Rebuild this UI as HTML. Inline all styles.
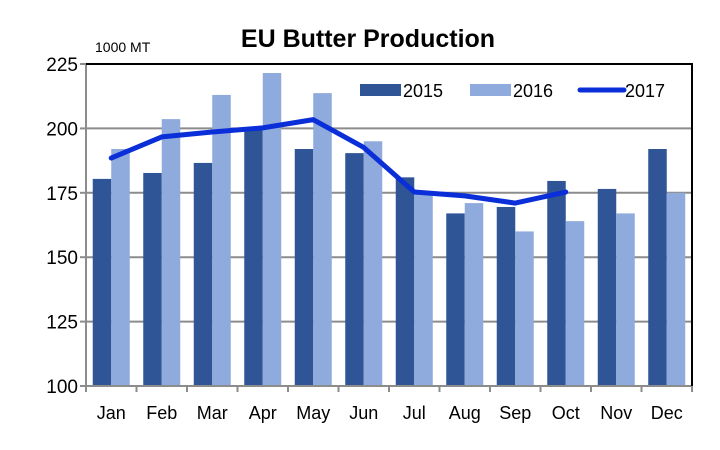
<!DOCTYPE html>
<html><head><meta charset="utf-8"><style>
body{margin:0;background:#fff;}
svg{display:block;font-family:"Liberation Sans",Arial,sans-serif;}
</style></head><body>
<svg id="chart" width="720" height="450">
<text x="368" y="47" text-anchor="middle" font-size="25" font-weight="bold">EU Butter Production</text>
<text x="95" y="52" font-size="14">1000 MT</text>
<g id="grid"></g><g id="bars"></g><g id="line"></g><g id="axes"></g>
<g>
<rect x="360" y="84" width="41" height="12" fill="#2f5597"/>
<text x="403" y="97" font-size="18">2015</text>
<rect x="470" y="84" width="41" height="12" fill="#8faadc"/>
<text x="513" y="97" font-size="18">2016</text>
<line x1="580" y1="90" x2="624" y2="90" stroke="#0a2fd8" stroke-width="5" stroke-linecap="round"/>
<text x="625" y="97" font-size="18">2017</text>
</g>
</svg>
<script>
const months=["Jan","Feb","Mar","Apr","May","Jun","Jul","Aug","Sep","Oct","Nov","Dec"];
const s2015=[180.4,182.7,186.6,200.5,192,190.4,181,167,169.5,179.6,176.5,192];
const s2016=[192,203.6,213,221.5,213.7,195,175,171,160,164,167,175];
const s2017=[188.5,196.7,198.6,200.2,203.4,192.6,175.3,173.8,171,175.3];
const yTicks=[100,125,150,175,200,225];
const NS="http://www.w3.org/2000/svg";
const L=86,R=692,T=64,B=386,yMin=100,yMax=225;
const bw=(R-L)/months.length;
function y(v){return B-(v-yMin)/(yMax-yMin)*(B-T);}
function xc(i){return L+bw*(i+0.5);}
function mk(tag,attrs,parent){const e=document.createElementNS(NS,tag);for(const k in attrs)e.setAttribute(k,attrs[k]);parent.appendChild(e);return e;}
const grid=document.getElementById('grid'),bars=document.getElementById('bars'),line=document.getElementById('line'),axes=document.getElementById('axes');
yTicks.forEach(t=>{
  if(t>yMin&&t<yMax){const g=mk('line',{x1:L,x2:R,y1:y(t),y2:y(t),stroke:'#8c8c8c','stroke-width':2},grid);
  
  }
  const tx=mk('text',{x:78,y:y(t)+7,'text-anchor':'end','font-size':19},axes);tx.textContent=t;
  
  
});
const bW=18.5,off=6.75;
months.forEach((m,i)=>{
  const x0=L+bw*i+off;
  const a=mk('rect',{x:x0,y:y(s2015[i]),width:bW,height:B-y(s2015[i]),fill:'#2f5597'},bars);
  
  
  const b=mk('rect',{x:x0+bW,y:y(s2016[i]),width:bW,height:B-y(s2016[i]),fill:'#8faadc'},bars);
  
  
  const tx=mk('text',{x:xc(i),y:419,'text-anchor':'middle','font-size':18},axes);tx.textContent=m;
  
  
});
for(let i=0;i<=months.length;i++){const tk=mk('line',{x1:L+bw*i,x2:L+bw*i,y1:B,y2:B+6,stroke:'#8c8c8c','stroke-width':2},axes);
  
  }
const pl=mk('polyline',{points:s2017.map((v,i)=>xc(i)+','+y(v)).join(' '),fill:'none',stroke:'#0a2fd8','stroke-width':5,'stroke-linejoin':'round','stroke-linecap':'round'},line);


const ax=mk('line',{x1:L,x2:L,y1:T,y2:B,stroke:'#8c8c8c','stroke-width':2},axes);


const xa=mk('line',{x1:L-6,x2:R,y1:B,y2:B,stroke:'#8c8c8c','stroke-width':2},axes);


const fr=mk('polyline',{points:`${L},${T} ${R},${T} ${R},${B}`,fill:'none',stroke:'#000','stroke-width':2},axes);


yTicks.forEach(t=>{const k=mk('line',{x1:L-6,x2:L,y1:y(t),y2:y(t),stroke:'#8c8c8c','stroke-width':2},axes);
  
  });
</script>
</body></html>
